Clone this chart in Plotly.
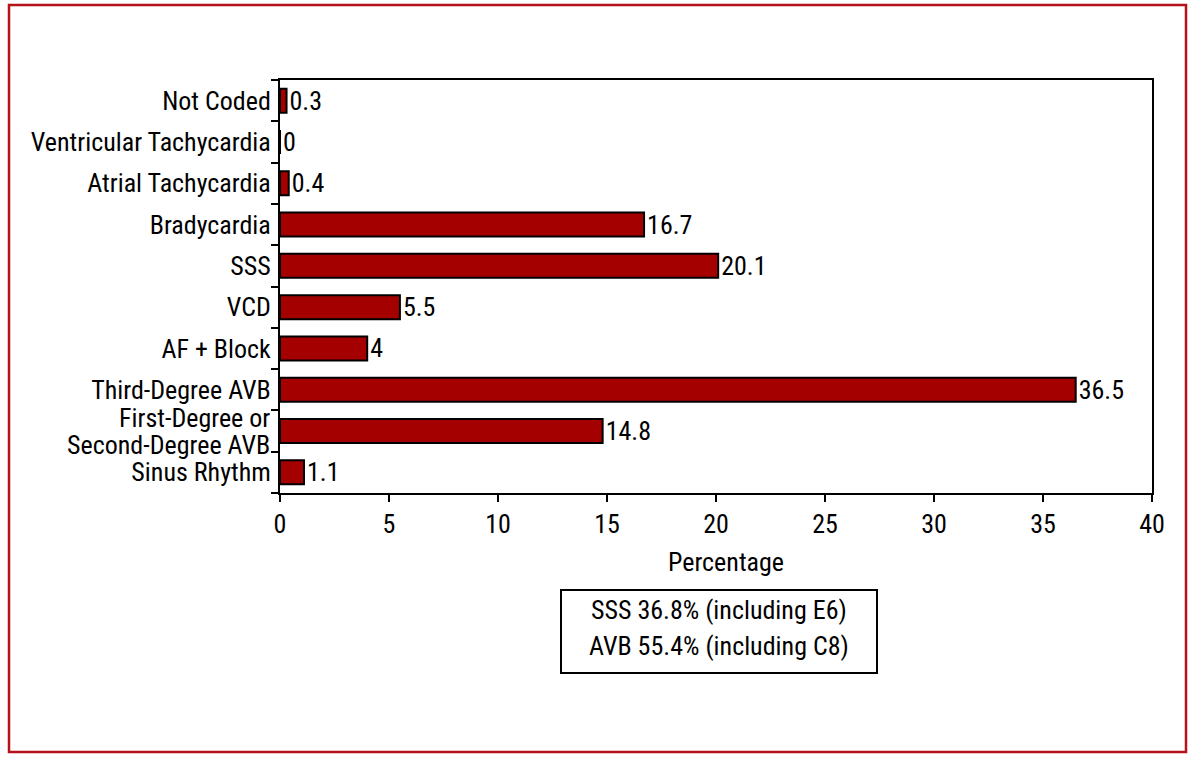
import plotly.graph_objects as go

categories = ["Sinus Rhythm", "First-Degree or Second-Degree AVB", "Third-Degree AVB",
              "AF + Block", "VCD", "SSS", "Bradycardia", "Atrial Tachycardia",
              "Ventricular Tachycardia", "Not Coded"]
category_ticktext = ["Sinus Rhythm", "", "Third-Degree AVB",
                     "AF + Block", "VCD", "SSS", "Bradycardia", "Atrial Tachycardia",
                     "Ventricular Tachycardia", "Not Coded"]
two_line_label = ["First-Degree or", "Second-Degree AVB"]
values = [1.1, 14.8, 36.5, 4, 5.5, 20.1, 16.7, 0.4, 0, 0.3]
value_labels = ["1.1", "14.8", "36.5", "4", "5.5", "20.1", "16.7", "0.4", "0", "0.3"]
x_ticks = [0, 5, 10, 15, 20, 25, 30, 35, 40]
note_lines = ["SSS 36.8% (including E6)", "AVB 55.4% (including C8)"]

FONT = "Roboto Condensed, Liberation Sans Narrow, sans-serif"
FS = 26
W, H = 1200, 763
L, R, T, B = 280, 48, 80, 270
pw, ph = W - L - R, H - T - B

def px_x(x):
    return (x - L) / pw

def px_y(y):
    return (H - B - y) / ph

fig = go.Figure()
fig.add_trace(go.Bar(
    y=categories, x=values, orientation="h",
    marker=dict(color="#A50000", line=dict(color="black", width=2)),
    width=0.58,
    text=value_labels, textposition="outside", cliponaxis=False,
    constraintext="none",
    textfont=dict(family=FONT, size=FS, color="black"),
))

annotations = [
    dict(text=note_lines[0], xref="paper", yref="paper", x=px_x(719), y=px_y(610),
         showarrow=False, xanchor="center", yanchor="middle",
         font=dict(family=FONT, size=FS, color="black")),
    dict(text=note_lines[1], xref="paper", yref="paper", x=px_x(719), y=px_y(646),
         showarrow=False, xanchor="center", yanchor="middle",
         font=dict(family=FONT, size=FS, color="black")),
    dict(text=two_line_label[0], xref="paper", yref="y", x=0, y=categories[1],
         xanchor="right", yanchor="middle", xshift=-8, yshift=13, showarrow=False,
         font=dict(family=FONT, size=FS, color="black")),
    dict(text=two_line_label[1], xref="paper", yref="y", x=0, y=categories[1],
         xanchor="right", yanchor="middle", xshift=-8, yshift=-14, showarrow=False,
         font=dict(family=FONT, size=FS, color="black")),
    dict(text="Percentage", xref="paper", yref="paper", x=px_x(726), y=px_y(562),
         xanchor="center", yanchor="middle", showarrow=False,
         font=dict(family=FONT, size=FS, color="black")),
]

fig.update_layout(
    width=W, height=H,
    margin=dict(l=L, r=R, t=T, b=B),
    paper_bgcolor="white", plot_bgcolor="white",
    showlegend=False,
    font=dict(family=FONT, size=FS, color="black"),
    xaxis=dict(range=[0, 40], tickvals=x_ticks, ticks="outside", ticklen=7,
               tickwidth=2, tickcolor="black", showgrid=False, zeroline=False,
               showline=True, linecolor="black", linewidth=2, mirror=True,
               tickfont=dict(family=FONT, size=FS)),
    yaxis=dict(type="category", categoryorder="array", categoryarray=categories,
               tickvals=categories, ticktext=category_ticktext,
               ticks="outside", ticklen=7, tickwidth=2, tickcolor="black",
               tickson="boundaries", showgrid=False, zeroline=False,
               showline=True, linecolor="black", linewidth=2, mirror=True,
               tickfont=dict(family=FONT, size=FS), ticklabelstandoff=2),
    shapes=[
        dict(type="rect", xref="paper", yref="paper",
             x0=px_x(9), x1=px_x(1186), y0=px_y(752), y1=px_y(5),
             line=dict(color="#B5121B", width=2.5)),
        dict(type="rect", xref="paper", yref="paper",
             x0=px_x(561), x1=px_x(877), y0=px_y(673), y1=px_y(590),
             line=dict(color="black", width=2)),
    ],
    annotations=annotations,
)

fig.write_html("out.html", config={"displayModeBar": False},
               post_script="document.body.style.margin='0';")
